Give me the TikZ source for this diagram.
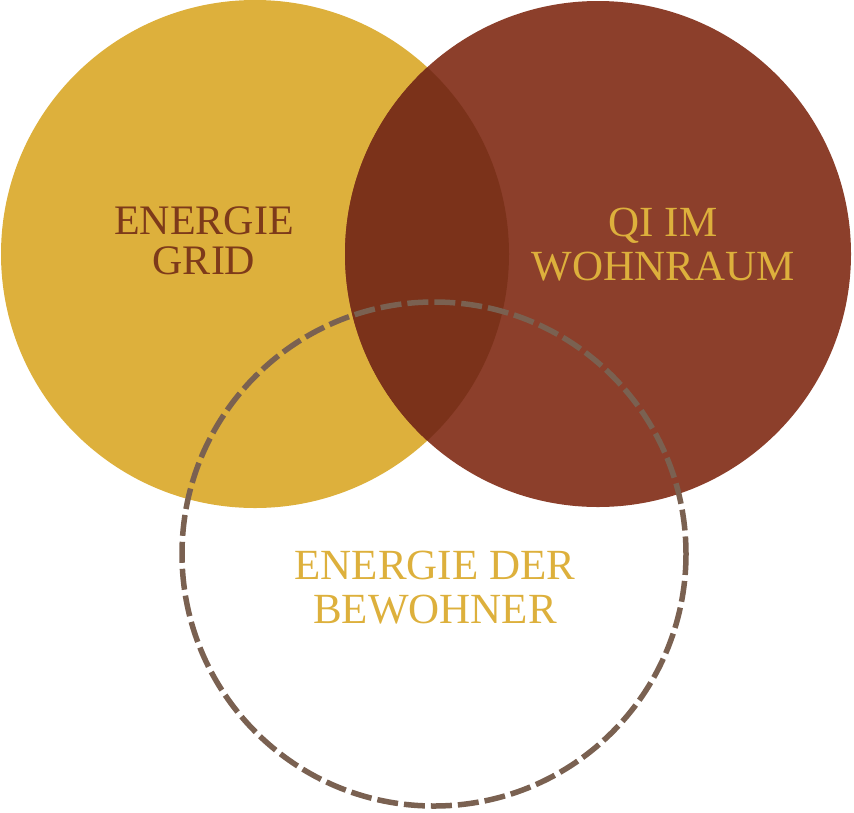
\documentclass[tikz,border=0pt]{standalone}
\usepackage{fontspec}
\setmainfont{Liberation Serif}
\usepackage{xcolor}

\definecolor{gelb}{HTML}{DDB03C}
\definecolor{rot}{HTML}{8C3F2B}
\definecolor{dunkel}{HTML}{7B321A}
\definecolor{braun}{HTML}{7D3A1A}
\definecolor{strich}{HTML}{7A6151}

\begin{document}
\begin{tikzpicture}
  [x=1pt,y=-1pt,every node/.style={align=center,font=\fontsize{43}{44}\selectfont}]
  \useasboundingbox (0,0) rectangle (854,812);
  \fill[gelb] (255,254) circle (254);
  \fill[rot] (598,254) circle (253);
  \begin{scope}
    \clip (255,254) circle (254);
    \fill[dunkel] (598,254) circle (253);
  \end{scope}
  \draw[strich,line width=5.5pt,dash pattern=on 21pt off 6pt] (434,554) circle (252);

  \node[text=braun,font=\fontsize{42}{40}\selectfont] (grid) at (204,241) {ENERGIE\\GRID};
  \node[text=gelb] (qi) at (663,245) {QI IM\\WOHNRAUM};
  \node[text=gelb] (bewohner) at (435,588) {ENERGIE DER\\BEWOHNER};

\end{tikzpicture}
\end{document}
